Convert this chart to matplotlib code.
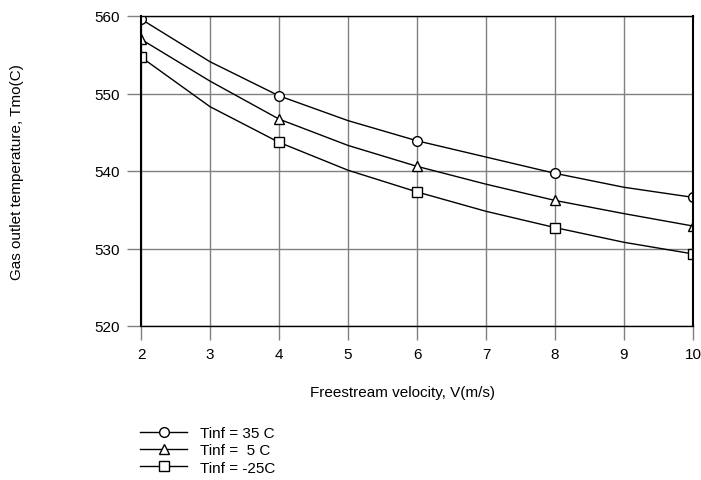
import numpy as np
import matplotlib.pyplot as plt

plt.rcParams['font.family'] = ['Liberation Sans', 'DejaVu Sans']

# Freestream velocity (m/s) at each integer
velocity = [2, 3, 4, 5, 6, 7, 8, 9, 10]

# Gas outlet temperature (C) for each ambient temperature
t_35 = [559.6, 554.1, 549.7, 546.5, 543.9, 541.8, 539.7, 537.9, 536.6]
t_5 = [557.0, 551.6, 546.7, 543.3, 540.6, 538.3, 536.2, 534.5, 532.9]
t_m25 = [554.7, 548.3, 543.7, 540.1, 537.3, 534.8, 532.7, 530.8, 529.3]

labels = ["Tinf = 35 C", "Tinf =  5 C", "Tinf = -25C"]
markers = ["o", "^", "s"]

fig = plt.figure(figsize=(7.01, 4.81), dpi=100)
ax = fig.add_axes([141 / 701, 1 - 327 / 481, 552 / 701, 310 / 481])

handles = []
for ys, m, lab in zip([t_35, t_5, t_m25], markers, labels):
    h, = ax.plot(velocity, ys, color="black", lw=1.0, marker=m,
                 markevery=2, markersize=7, markerfacecolor="white",
                 markeredgecolor="black", markeredgewidth=1.0, label=lab)
    handles.append(h)

ax.set_xlim(2, 10)
ax.set_ylim(520, 560)
ax.set_xticks(np.arange(2, 11, 1))
ax.set_yticks(np.arange(520, 561, 10))
ax.grid(True, color="#808080", lw=1.0)
ax.tick_params(direction="out", length=10, width=1.0, color="#808080",
               labelsize=11, pad=5)
for side in ["left", "right", "top", "bottom"]:
    ax.spines[side].set_color("black")
    ax.spines[side].set_linewidth(1.0)
ax.spines["left"].set_linewidth(1.5)
ax.spines["right"].set_linewidth(1.5)

fig.text(17 / 701, 1 - 172 / 481, "Gas outlet temperature, Tmo(C)",
         rotation=90, ha="center", va="center", fontsize=11)
fig.text(403 / 701, 1 - 393 / 481, "Freestream velocity, V(m/s)",
         ha="center", va="center", fontsize=11)

fig.legend(handles=handles, loc="upper left",
           bbox_to_anchor=(140 / 701, 1 - 427 / 481), frameon=False,
           fontsize=11, handlelength=3.1, handletextpad=0.8,
           labelspacing=0.22, borderpad=0, borderaxespad=0)

fig.savefig("out.png", dpi=100)
